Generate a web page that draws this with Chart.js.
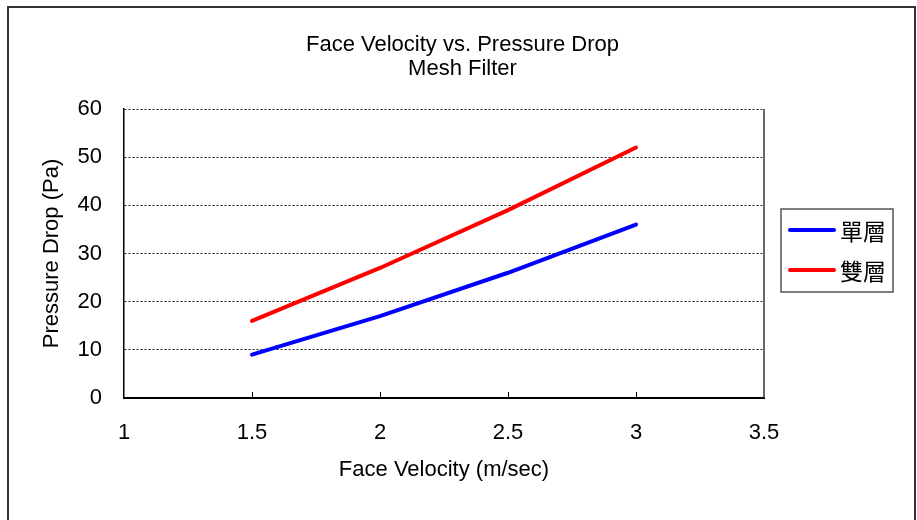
<!DOCTYPE html>
<html>
<head>
<meta charset="utf-8">
<script src="https://cdn.jsdelivr.net/npm/chart.js@4.4.1/dist/chart.umd.min.js"></script>
<style>
  html, body { margin: 0; padding: 0; background: #fff; }
  canvas { display: block; }
</style>
</head>
<body>
<canvas id="chart" width="917" height="520"></canvas>
<script>
// data
const velocity = [1.5, 2, 2.5, 3];            // m/sec
const singleLayer = [9, 17, 26, 36];          // Pa
const doubleLayer = [16, 27, 39, 52];         // Pa
const seriesNames = ['單層', '雙層'];
const seriesColors = ['#0000ff', '#ff0000'];
const titleLines = ['Face Velocity vs. Pressure Drop', 'Mesh Filter'];
const xTicks = [1, 1.5, 2, 2.5, 3, 3.5];
const yTicks = [0, 10, 20, 30, 40, 50, 60];

const FONT = "'Liberation Sans', Arial, sans-serif";

// frame, inner tick marks and the boxed legend
const excelLook = {
    id: 'excelLook',
    beforeDraw(chart) {
        const ctx = chart.ctx;
        ctx.save();
        ctx.fillStyle = '#fff';
        ctx.fillRect(0, 0, chart.width, chart.height);
        ctx.strokeStyle = '#333';
        ctx.lineWidth = 2;
        ctx.strokeRect(8, 7, 907, 540);
        ctx.restore();
    },
    afterDraw(chart) {
        const ctx = chart.ctx;
        const area = chart.chartArea;
        const x = chart.scales.x;
        ctx.save();

        // right edge of plot area
        ctx.strokeStyle = '#333';
        ctx.lineWidth = 1.5;
        ctx.beginPath();
        ctx.moveTo(area.right, area.top);
        ctx.lineTo(area.right, area.bottom);
        ctx.stroke();

        // tick marks pointing into the plot
        ctx.strokeStyle = '#000';
        ctx.lineWidth = 1;
        xTicks.slice(1, -1).forEach(v => {
            const px = Math.round(x.getPixelForValue(v)) + 0.5;
            ctx.beginPath();
            ctx.moveTo(px, area.bottom);
            ctx.lineTo(px, area.bottom - 6);
            ctx.stroke();
        });

        // legend box
        ctx.strokeStyle = '#555';
        ctx.lineWidth = 1.5;
        ctx.strokeRect(781, 209, 112, 83);
        ctx.font = "23px 'Noto Sans CJK TC', sans-serif";
        ctx.textBaseline = 'middle';
        ctx.textAlign = 'left';
        chart.data.datasets.forEach((ds, i) => {
            const ly = 230 + i * 40;
            ctx.strokeStyle = ds.borderColor;
            ctx.lineWidth = 4;
            ctx.lineCap = 'round';
            ctx.beginPath();
            ctx.moveTo(790, ly);
            ctx.lineTo(834, ly);
            ctx.stroke();
            ctx.fillStyle = '#000';
            ctx.fillText(ds.label, 840, ly + 1);
        });
        ctx.restore();
    }
};

const ctx = document.getElementById('chart').getContext('2d');
new Chart(ctx, {
    type: 'line',
    data: {
        datasets: [
            {
                label: seriesNames[0],
                data: velocity.map((v, i) => ({ x: v, y: singleLayer[i] })),
                borderColor: seriesColors[0],
                borderWidth: 4,
                pointRadius: 0,
                tension: 0,
                borderCapStyle: 'round'
            },
            {
                label: seriesNames[1],
                data: velocity.map((v, i) => ({ x: v, y: doubleLayer[i] })),
                borderColor: seriesColors[1],
                borderWidth: 4,
                pointRadius: 0,
                tension: 0,
                borderCapStyle: 'round'
            }
        ]
    },
    options: {
        responsive: false,
        animation: false,
        layout: { padding: { left: 8, right: 0, top: 0, bottom: 0 } },
        plugins: {
            legend: { display: false },
            tooltip: { enabled: false },
            title: {
                display: true,
                text: titleLines,
                color: '#000',
                font: { family: FONT, size: 22, weight: 'normal', lineHeight: 24 / 22 },
                padding: { top: 33, bottom: 28 }
            }
        },
        scales: {
            x: {
                type: 'linear',
                min: 1,
                max: 3.5,
                afterBuildTicks: s => { s.ticks = xTicks.map(v => ({ value: v })); },
                afterFit: s => { s.height = 122; },
                grid: { display: false },
                border: { display: true, color: '#000', width: 2 },
                ticks: {
                    color: '#000',
                    padding: 14,
                    font: { family: FONT, size: 22 },
                    callback: v => String(v)
                },
                title: {
                    display: true,
                    text: 'Face Velocity (m/sec)',
                    color: '#000',
                    font: { family: FONT, size: 22 },
                    padding: { top: 0, bottom: 37 }
                }
            },
            y: {
                min: 0,
                max: 60,
                afterBuildTicks: s => { s.ticks = yTicks.map(v => ({ value: v })); },
                afterFit: s => { s.width = 116; },
                grid: { color: '#222', lineWidth: 1, drawTicks: false },
                border: { display: true, color: '#000', width: 1.5, dash: [2, 2] },
                ticks: {
                    color: '#000',
                    padding: 22,
                    font: { family: FONT, size: 22 }
                },
                title: {
                    display: true,
                    text: 'Pressure Drop (Pa)',
                    color: '#000',
                    font: { family: FONT, size: 22 },
                    padding: { top: 31, bottom: 0 }
                }
            },
            // empty right axis, only keeps room for the legend box
            side: {
                position: 'right',
                display: true,
                grid: { display: false },
                border: { display: false },
                ticks: { display: false },
                afterFit: s => { s.width = 153; }
            }
        }
    },
    plugins: [excelLook]
});
</script>
</body>
</html>
